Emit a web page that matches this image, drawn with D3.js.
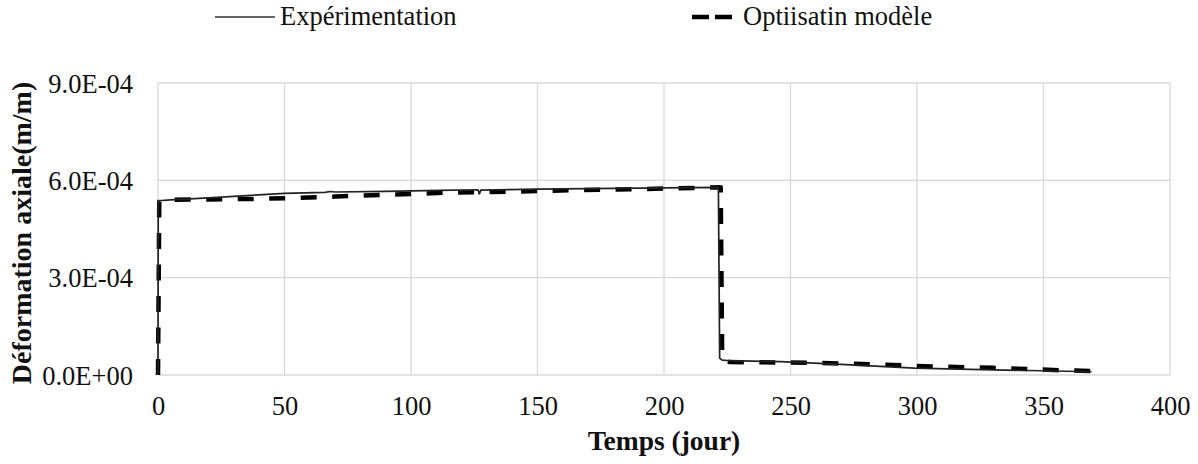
<!DOCTYPE html>
<html>
<head>
<meta charset="utf-8">
<script src="https://cdn.jsdelivr.net/npm/d3@7"></script>
<style>
  html, body { margin: 0; padding: 0; background: #fff; }
  svg text { font-family: "Liberation Serif", "Times New Roman", serif; fill: #111; }
</style>
</head>
<body>
<svg id="chart" width="1198" height="464"></svg>
<script>
// ---- data ----
const seriesNames = ["Expérimentation", "Optiisatin modèle"];
const xTicks = [0, 50, 100, 150, 200, 250, 300, 350, 400];
const yTicks = [0, 3e-4, 6e-4, 9e-4];
const yTickLabels = ["0.0E+00", "3.0E-04", "6.0E-04", "9.0E-04"];
const xTitle = "Temps (jour)";
const yTitle = "Déformation axiale(m/m)";

// Expérimentation (day, strain)
const expDays = [0, 0.1, 5, 20, 35, 50, 66, 68, 70, 90, 111, 126.5, 127, 127.6, 150, 180, 200, 221.5, 222, 223, 226, 246, 270, 299, 330, 369];
const expVals = [0, 5.37e-4, 5.40e-4, 5.46e-4, 5.53e-4, 5.60e-4, 5.63e-4, 5.655e-4, 5.64e-4, 5.66e-4, 5.69e-4, 5.71e-4, 5.58e-4, 5.70e-4, 5.73e-4, 5.75e-4, 5.77e-4, 5.78e-4, 5.2e-5, 4.6e-5, 4.4e-5, 4.1e-5, 3.3e-5, 2.1e-5, 1.6e-5, 1.0e-5];

// Optiisatin modèle (day, strain)
const modDays = [0, 0.5, 3, 20, 40, 55, 70, 92, 105, 114, 140, 166, 191, 214, 222.4, 223, 226, 258, 282, 307, 330, 356, 369];
const modVals = [0, 5.34e-4, 5.40e-4, 5.41e-4, 5.43e-4, 5.46e-4, 5.50e-4, 5.56e-4, 5.59e-4, 5.62e-4, 5.65e-4, 5.70e-4, 5.73e-4, 5.77e-4, 5.79e-4, 4.8e-5, 4.0e-5, 3.8e-5, 3.3e-5, 2.6e-5, 2.2e-5, 1.5e-5, 1.2e-5];

// ---- layout ----
const svg = d3.select("#chart");
const pLeft = 158, pRight = 1170, pTop = 83, pBottom = 375;
const x = d3.scaleLinear().domain([0, 400]).range([pLeft, pRight]);
const y = d3.scaleLinear().domain([0, 9e-4]).range([pBottom, pTop]);

const grid = svg.append("g");
grid.selectAll("line.v").data(xTicks).join("line").attr("class", "v")
  .attr("x1", d => x(d)).attr("x2", d => x(d))
  .attr("y1", pTop).attr("y2", pBottom)
  .attr("stroke", "#d9d9d9").attr("stroke-width", 1.3);
grid.selectAll("line.h").data(yTicks).join("line").attr("class", "h")
  .attr("x1", pLeft).attr("x2", pRight)
  .attr("y1", d => y(d)).attr("y2", d => y(d))
  .attr("stroke", "#d9d9d9").attr("stroke-width", 1.3);

// axes via d3 (labels only)
const xAxis = d3.axisBottom(x).tickValues(xTicks).tickSize(0).tickPadding(0);
const gx = svg.append("g").attr("transform", `translate(0,${pBottom})`).call(xAxis);
gx.select(".domain").remove();
gx.selectAll("text").attr("font-size", 26.5).attr("dy", null).attr("y", 40)
  .style("font-family", "'Liberation Serif', serif").attr("fill", "#111");

const yAxis = d3.axisLeft(y).tickValues(yTicks).tickSize(0).tickPadding(0)
  .tickFormat((d, i) => yTickLabels[i]);
const gy = svg.append("g").attr("transform", `translate(${pLeft - 25},0)`).call(yAxis);
gy.select(".domain").remove();
gy.selectAll("text").attr("font-size", 26.5).attr("x", 0).attr("dy", "0.34em")
  .style("font-family", "'Liberation Serif', serif").attr("fill", "#111");

// titles
svg.append("text").attr("x", (pLeft + pRight) / 2).attr("y", 450)
  .attr("text-anchor", "middle").attr("font-size", 27.5).attr("font-weight", "bold")
  .text(xTitle);
svg.append("text").attr("transform", `translate(31,${(pTop + pBottom) / 2 + 4}) rotate(-90)`)
  .attr("text-anchor", "middle").attr("font-size", 28).attr("font-weight", "bold")
  .text(yTitle);

// lines
const line = d3.line().x(d => x(d[0])).y(d => y(d[1]));
const expData = expDays.map((d, i) => [d, expVals[i]]);
const modData = modDays.map((d, i) => [d, modVals[i]]);

svg.append("path").datum(modData).attr("d", line)
  .attr("fill", "none").attr("stroke", "#000").attr("stroke-width", 4.5)
  .attr("stroke-dasharray", "16,15.5").attr("stroke-linejoin", "round");
svg.append("path").datum(expData).attr("d", line)
  .attr("fill", "none").attr("stroke", "#222").attr("stroke-width", 1.7)
  .attr("stroke-linejoin", "round");

// legend
svg.append("line").attr("x1", 215).attr("x2", 275).attr("y1", 17).attr("y2", 17)
  .attr("stroke", "#333").attr("stroke-width", 1.7);
svg.append("text").attr("x", 280).attr("y", 25).attr("font-size", 26.5).text(seriesNames[0]);
svg.append("line").attr("x1", 692).attr("x2", 732).attr("y1", 17).attr("y2", 17)
  .attr("stroke", "#000").attr("stroke-width", 4.5).attr("stroke-dasharray", "17,6");
svg.append("text").attr("x", 743).attr("y", 25).attr("font-size", 26.5).text(seriesNames[1]);
</script>
</body>
</html>
